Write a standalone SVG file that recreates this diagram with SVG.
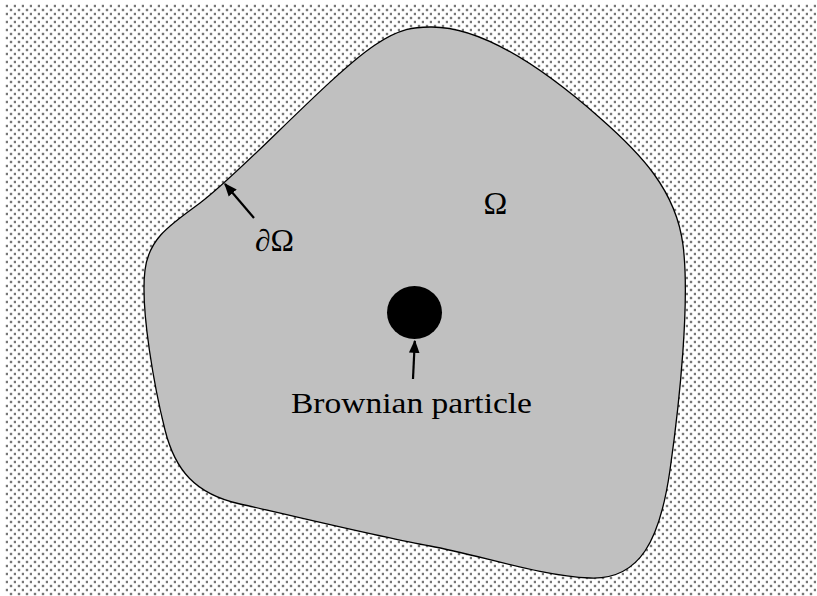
<svg xmlns="http://www.w3.org/2000/svg" width="817" height="596" viewBox="0 0 817 596">
<defs>
<pattern id="dots" x="0" y="0" width="8" height="8" patternUnits="userSpaceOnUse">
<rect x="5.8" y="4.8" width="2.4" height="2.4" fill="#777"/>
<rect x="1.8" y="0.8" width="2.4" height="2.4" fill="#777"/>
</pattern>
<marker id="arr" viewBox="0 0 10 10" refX="9" refY="5" markerWidth="6" markerHeight="6" orient="auto" markerUnits="strokeWidth">
<path d="M0,1 L10,5 L0,9 Z" fill="#000"/>
</marker>
<style>
.lbl{font-family:"Liberation Serif","DejaVu Serif",serif;fill:#000}
.conn{stroke:#000;stroke-width:2.2;fill:none}
</style>
</defs>
<rect width="817" height="596" fill="#fff"/>
<rect x="5" y="4" width="812" height="592" fill="url(#dots)"/>
<g id="domain">
<path d="M430 27 C480 26 540 65 600 118 C640 153 676 190 683 245 C690 300 680 400 670 470 C660 540 640 580 590 578 C540 576 480 555 430 546 C380 537 290 515 240 504 C195 494 175 470 165 430 C155 390 140 310 145 270 C149 238 170 225 200 203 C241 173 330 75 375 45 C400 28 415 27 430 27 Z" fill="#c0c0c0" stroke="#000" stroke-width="1.3"/>
<text class="lbl" x="495.5" y="214" font-size="32" text-anchor="middle">Ω</text>
</g>
<g id="particle">
<ellipse cx="414.5" cy="312.5" rx="27.5" ry="26.5" fill="#000"/>
<text class="lbl" x="291" y="413" font-size="30" textLength="241" lengthAdjust="spacingAndGlyphs">Brownian particle</text>
</g>
<g id="boundary-label">
<text class="lbl" x="255" y="251" font-size="31" textLength="39" lengthAdjust="spacingAndGlyphs">∂Ω</text>
</g>
<g id="connectors">
<line class="conn" x1="413" y1="379" x2="414.8" y2="341" marker-end="url(#arr)"/>
<line class="conn" x1="254" y1="218" x2="225" y2="184" marker-end="url(#arr)"/>
</g>
</svg>
